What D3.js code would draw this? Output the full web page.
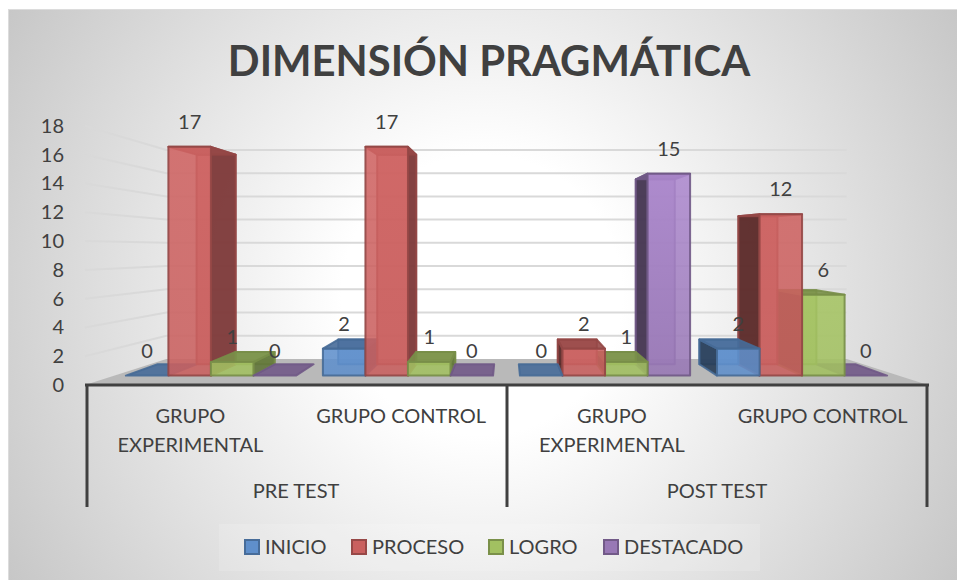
<!DOCTYPE html>
<html>
<head>
<meta charset="utf-8">
<script src="https://cdn.jsdelivr.net/npm/d3@7"></script>
<style>
    html, body { margin: 0; padding: 0; background: #fff; }
    svg { display: block; }
    text { font-family: Lato, "Open Sans", sans-serif; fill: #404040; }
</style>
</head>
<body>
<svg width="957" height="580"></svg>
<script>
var title = "DIMENSIÓN PRAGMÁTICA";
var series = ["INICIO", "PROCESO", "LOGRO", "DESTACADO"];
var seriesColors = ["#5f8fcb", "#c9605f", "#a2c061", "#9878b5"];
var categories = ["Pre exp", "Pre ctrl", "Post exp", "Post ctrl"];
var categoryLabels = [["GRUPO", "EXPERIMENTAL"], ["GRUPO CONTROL"], ["GRUPO", "EXPERIMENTAL"], ["GRUPO CONTROL"]];
var groups = ["PRE TEST", "POST TEST"];
var yTicks = [0, 2, 4, 6, 8, 10, 12, 14, 16, 18];
var inicio = [0, 2, 0, 2];
var proceso = [17, 17, 2, 12];
var logro = [1, 1, 1, 6];
var destacado = [0, 0, 15, 0];
var values = [inicio, proceso, logro, destacado];

var svg = d3.select("svg");

// fake 3d: everything is drawn in the front plane, then pulled to a vanishing point
var vanishX = 506.5, wallY = 250, barY = 240;
var sWall = 0.807, sFront = 0.935, sBack = 0.857;

var y = d3.scaleLinear().domain([0, 18]).range([385, 126]);
var x0 = d3.scaleBand().domain(categories).range([85, 928]).paddingInner(0.1365).paddingOuter(0.06825);
var x1 = d3.scaleBand().domain(series).range([0, x0.bandwidth()]);

function project(px, v, s, cy) {
    return [vanishX + (px - vanishX) * s, cy + (y(v) - cy) * s];
}

var poly = d3.line();

// background
var defs = svg.append("defs");
var bg = defs.append("radialGradient").attr("id", "bg")
    .attr("gradientUnits", "userSpaceOnUse")
    .attr("cx", 482).attr("cy", 295).attr("r", 560);
bg.append("stop").attr("offset", 0.25).attr("stop-color", "#ffffff");
bg.append("stop").attr("offset", 1).attr("stop-color", "#c6c6c6");

// front faces get lighter towards the top of the tall bars (purple most of all)
var lift = [0.15, 0.08, 0.15, 0.4];
series.forEach(function(s, i) {
    var g = defs.append("linearGradient").attr("id", "front" + i)
        .attr("gradientUnits", "userSpaceOnUse")
        .attr("x1", 0).attr("x2", 0).attr("y1", 376).attr("y2", 150);
    g.append("stop").attr("offset", 0).attr("stop-color", seriesColors[i]);
    g.append("stop").attr("offset", 1).attr("stop-color", d3.color(seriesColors[i]).brighter(lift[i]));
});

svg.append("rect").attr("x", 8.5).attr("y", 9.5).attr("width", 960).attr("height", 580)
    .attr("fill", "url(#bg)").attr("stroke", "#dcdcdc");

svg.append("text").attr("x", 489).attr("y", 76)
    .attr("text-anchor", "middle").attr("font-weight", 700).attr("font-size", 41.8)
    .text(title);

// floor
svg.append("path")
    .attr("d", poly([project(85, 0, 1, wallY), project(928, 0, 1, wallY), project(928, 0, sWall, wallY), project(85, 0, sWall, wallY)]) + "Z")
    .attr("fill", "#b9b9b9");

// gridlines on back wall and left wall
yTicks.filter(function(d) { return d > 0; }).forEach(function(t) {
    svg.append("path")
        .attr("d", poly([project(85, t, 1, wallY), project(85, t, sWall, wallY), project(928, t, sWall, wallY)]))
        .attr("fill", "none").attr("stroke", "#d9d9d9").attr("stroke-width", 2);
});

// y axis
var yAxis = svg.append("g").attr("transform", "translate(64,0)")
    .call(d3.axisLeft(y).tickValues(yTicks).tickSize(0).tickPadding(0));
yAxis.select(".domain").remove();
yAxis.selectAll("text").attr("font-size", 20).attr("font-family", "Lato").attr("fill", "#404040");

// bars, outer ones first so the ones near the vanishing point sit on top
var bars = [];
series.forEach(function(s, i) {
    categories.forEach(function(c, j) {
        var left = x0(c) + x1(s);
        bars.push({ left: left, right: left + x1.bandwidth(), v: values[i][j], color: seriesColors[i], idx: i });
    });
});
bars.sort(function(a, b) {
    return Math.abs((b.left + b.right) / 2 - vanishX) - Math.abs((a.left + a.right) / 2 - vanishX);
});

function face(b, pts, fill, op) {
    svg.append("path")
        .attr("d", poly(pts) + "Z")
        .attr("fill", fill)
        .attr("fill-opacity", op)
        .attr("stroke", d3.color(b.color).darker(0.85))
        .attr("stroke-opacity", 0.9)
        .attr("stroke-width", 2)
        .attr("stroke-linejoin", "round");
}

function P(px, v, s) { return project(px, v, s, barY); }

bars.forEach(function(b) {
    var onLeft = (b.left + b.right) / 2 < vanishX;
    var side = onLeft ? b.right : b.left;
    var c = d3.color(b.color);
    if (b.v > 0) {
        face(b, [P(b.left, 0, sBack), P(b.right, 0, sBack), P(b.right, b.v, sBack), P(b.left, b.v, sBack)], b.color, 0.7);
        face(b, [P(side, 0, sFront), P(side, 0, sBack), P(side, b.v, sBack), P(side, b.v, sFront)], c.darker(onLeft ? 1.4 : 2.4), 0.9);
    }
    face(b, [P(b.left, b.v, sFront), P(b.right, b.v, sFront), P(b.right, b.v, sBack), P(b.left, b.v, sBack)], c.darker(0.8), 0.9);
    if (b.v > 0) {
        face(b, [P(b.left, 0, sFront), P(b.right, 0, sFront), P(b.right, b.v, sFront), P(b.left, b.v, sFront)], "url(#front" + b.idx + ")", 0.88);
    }
});

// data labels
bars.forEach(function(b) {
    var top = P((b.left + b.right) / 2, b.v, sFront);
    svg.append("text").attr("x", top[0]).attr("y", top[1] - 25)
        .attr("dy", "0.35em").attr("text-anchor", "middle").attr("font-size", 20)
        .text(b.v);
});

// category axis
svg.append("line").attr("x1", 85).attr("x2", 929).attr("y1", 385).attr("y2", 385)
    .attr("stroke", "#404040").attr("stroke-width", 3);
[87, 507, 927].forEach(function(px) {
    svg.append("line").attr("x1", px).attr("x2", px).attr("y1", 385).attr("y2", 507)
        .attr("stroke", "#404040").attr("stroke-width", 3);
});
categories.forEach(function(c, i) {
    categoryLabels[i].forEach(function(line, k) {
        svg.append("text").attr("x", x0(c) + x0.bandwidth() / 2).attr("y", 416 + k * 29)
            .attr("dy", "0.35em").attr("text-anchor", "middle").attr("font-size", 20)
            .text(line);
    });
});
groups.forEach(function(g, i) {
    svg.append("text").attr("x", 296 + i * 421).attr("y", 491)
        .attr("dy", "0.35em").attr("text-anchor", "middle").attr("font-size", 20)
        .text(g);
});

// legend
svg.append("rect").attr("x", 219).attr("y", 524).attr("width", 541).attr("height", 47)
    .attr("fill", "#ffffff").attr("fill-opacity", 0.15);
var legendX = [245, 352, 489, 604];
series.forEach(function(s, i) {
    svg.append("rect").attr("x", legendX[i]).attr("y", 540).attr("width", 14).attr("height", 14)
        .attr("fill", seriesColors[i]).attr("stroke", d3.color(seriesColors[i]).darker(0.8)).attr("stroke-width", 2);
    svg.append("text").attr("x", legendX[i] + 20).attr("y", 547)
        .attr("dy", "0.35em").attr("font-size", 20)
        .text(s);
});
</script>
</body>
</html>
